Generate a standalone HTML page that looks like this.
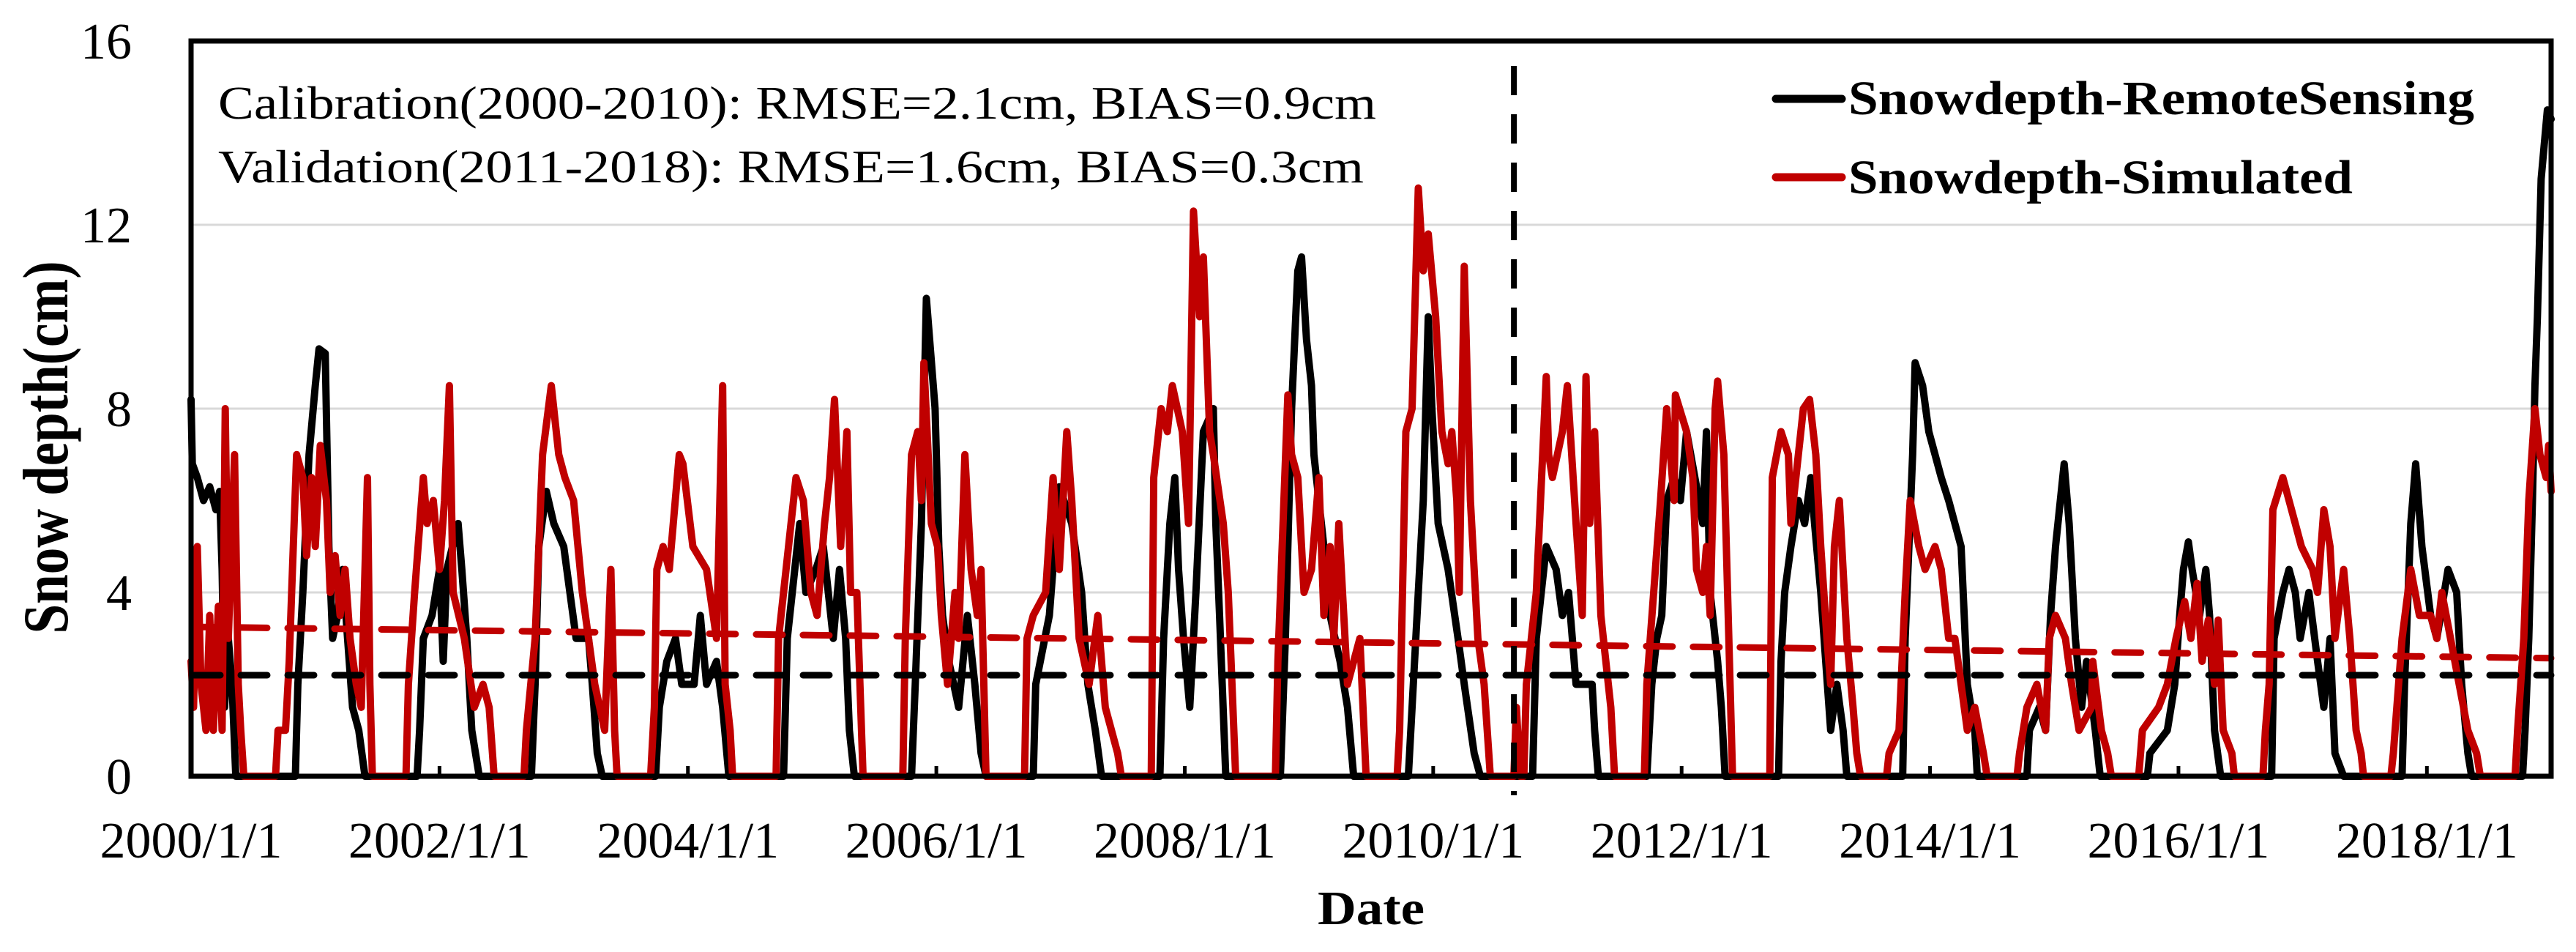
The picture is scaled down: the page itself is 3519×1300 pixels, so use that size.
<!DOCTYPE html>
<html><head><meta charset="utf-8"><style>
html,body{margin:0;padding:0;background:#fff;}
svg{display:block;}
text{font-family:"Liberation Serif",serif;}
</style></head><body>
<svg id="chart" width="3519" height="1300" viewBox="0 0 3519 1300" xmlns="http://www.w3.org/2000/svg">
<rect x="0" y="0" width="3519" height="1300" fill="#fff"/>
<g id="grid"></g>
<g id="series"></g>
<g id="frame"></g>
<g id="ylabels"></g>
<g id="xlabels"></g>
<text x="0" y="0" transform="translate(92,611) rotate(-90)" text-anchor="middle" font-weight="bold" font-size="88" textLength="509" lengthAdjust="spacingAndGlyphs">Snow depth(cm)</text>
<text x="1873" y="1262" text-anchor="middle" font-weight="bold" font-size="66" textLength="146" lengthAdjust="spacingAndGlyphs">Date</text>
<text x="298" y="162" font-size="64" textLength="1582" lengthAdjust="spacingAndGlyphs">Calibration(2000-2010): RMSE=2.1cm, BIAS=0.9cm</text>
<text x="298" y="249" font-size="64" textLength="1565" lengthAdjust="spacingAndGlyphs">Validation(2011-2018): RMSE=1.6cm, BIAS=0.3cm</text>
<g>
<line x1="2426" y1="135" x2="2516" y2="135" stroke="#000" stroke-width="11" stroke-linecap="round"/>
<text x="2525" y="156" font-size="66" font-weight="bold" textLength="855" lengthAdjust="spacingAndGlyphs">Snowdepth-RemoteSensing</text>
<line x1="2426" y1="242" x2="2516" y2="242" stroke="#c00000" stroke-width="11" stroke-linecap="round"/>
<text x="2525" y="264" font-size="66" font-weight="bold" textLength="689" lengthAdjust="spacingAndGlyphs">Snowdepth-Simulated</text>
</g>
</svg>
<script>
const yTicks = [0, 4, 8, 12, 16];
const xTickYears = [2000, 2002, 2004, 2006, 2008, 2010, 2012, 2014, 2016, 2018];
const xTickLabels = ["2000/1/1","2002/1/1","2004/1/1","2006/1/1","2008/1/1","2010/1/1","2012/1/1","2014/1/1","2016/1/1","2018/1/1"];
const splitYear = 2010.65;
const remoteTrend = [[2000, 2.2], [2019, 2.2]];
const simulatedTrend = [[2000, 3.25], [2019, 2.57]];
const remoteSensing = [
[2000.0,8.2],[2000.01,6.8],[2000.05,6.5],[2000.1,6.0],[2000.15,6.3],[2000.2,5.8],[2000.23,6.2],[2000.25,4.5],[2000.27,1.5],[2000.3,3.0],[2000.33,2.0],[2000.36,0],
[2000.84,0],[2000.86,2],[2000.9,4],[2000.95,7],[2001.0,8.5],[2001.03,9.3],[2001.08,9.2],[2001.11,5],[2001.14,3],[2001.18,3.5],[2001.22,4.5],[2001.26,3],[2001.3,1.5],[2001.35,1],[2001.4,0],
[2001.82,0],[2001.84,1],[2001.87,3],[2001.94,3.5],[2002.0,4.5],[2002.03,2.5],[2002.06,4.5],[2002.15,5.5],[2002.18,4.5],[2002.22,3],[2002.26,1],[2002.32,0],
[2002.74,0],[2002.77,2],[2002.8,5],[2002.86,6.2],[2002.92,5.5],[2003.0,5],[2003.05,4],[2003.1,3],[2003.2,3],[2003.23,2],[2003.27,0.5],[2003.31,0],
[2003.74,0],[2003.77,1.5],[2003.83,2.5],[2003.9,3],[2003.95,2],[2004.05,2],[2004.1,3.5],[2004.15,2],[2004.23,2.5],[2004.28,1.5],[2004.33,0],
[2004.77,0],[2004.8,3],[2004.9,5.5],[2004.95,4],[2005.03,4.5],[2005.09,5],[2005.17,3],[2005.22,4.5],[2005.27,3],[2005.3,1],[2005.34,0],
[2005.8,0],[2005.83,2],[2005.88,5.5],[2005.92,10.4],[2005.99,8],[2006.02,5],[2006.05,3.5],[2006.1,2.5],[2006.18,1.5],[2006.25,3.5],[2006.31,2],[2006.36,0.5],[2006.4,0],
[2006.78,0],[2006.8,2],[2006.91,3.5],[2006.99,6.3],[2007.09,5.5],[2007.17,4],[2007.22,2],[2007.28,1],[2007.33,0],
[2007.8,0],[2007.83,3],[2007.88,5.5],[2007.92,6.5],[2007.95,4.5],[2007.99,3],[2008.04,1.5],[2008.09,4],[2008.15,7.5],[2008.23,8],[2008.25,5.5],[2008.28,3.5],[2008.33,0],
[2008.77,0],[2008.81,3],[2008.86,8],[2008.91,11],[2008.94,11.3],[2008.98,9.5],[2009.02,8.5],[2009.04,7],[2009.12,5],[2009.17,3.5],[2009.25,2.5],[2009.31,1.5],[2009.36,0],
[2009.8,0],[2009.83,1.5],[2009.88,4],[2009.92,6],[2009.96,10],[2009.99,8],[2010.04,5.5],[2010.12,4.5],[2010.2,3],[2010.25,2],[2010.33,0.5],[2010.38,0],
[2010.8,0],[2010.83,3],[2010.91,5],[2010.99,4.5],[2011.04,3.5],[2011.09,4],[2011.15,2],[2011.28,2],[2011.3,1],[2011.33,0],
[2011.72,0],[2011.76,2],[2011.8,3],[2011.84,3.5],[2011.88,6],[2011.94,6.5],[2011.99,6],[2012.04,7.5],[2012.12,6.3],[2012.17,5.5],[2012.2,7.5],[2012.23,4],[2012.25,3.5],[2012.29,2.5],[2012.32,1.5],[2012.35,0],
[2012.78,0],[2012.8,2.5],[2012.83,4],[2012.88,5],[2012.94,6],[2012.99,5.5],[2013.04,6.5],[2013.07,5.5],[2013.12,4],[2013.2,1],[2013.25,2],[2013.3,1],[2013.33,0],
[2013.78,0],[2013.8,3],[2013.86,7],[2013.88,9],[2013.94,8.5],[2013.99,7.5],[2014.09,6.5],[2014.15,6],[2014.25,5],[2014.3,2],[2014.36,1],[2014.38,0],
[2014.78,0],[2014.8,1],[2014.88,1.5],[2014.93,1],[2014.97,3.5],[2015.01,5],[2015.08,6.8],[2015.12,5.5],[2015.17,3],[2015.22,1.5],[2015.26,2.5],[2015.33,1],[2015.37,0],
[2015.75,0],[2015.77,0.5],[2015.91,1],[2015.97,2],[2016.01,3.5],[2016.04,4.5],[2016.08,5.1],[2016.11,4.5],[2016.17,3.5],[2016.22,4.5],[2016.25,3.5],[2016.29,1],[2016.34,0],
[2016.75,0],[2016.77,3],[2016.84,4],[2016.89,4.5],[2016.94,4],[2016.98,3],[2017.05,4],[2017.12,2.5],[2017.17,1.5],[2017.22,3],[2017.26,0.5],[2017.33,0],
[2017.8,0],[2017.82,2],[2017.87,5.5],[2017.91,6.8],[2017.96,5],[2018.03,3.5],[2018.08,3],[2018.17,4.5],[2018.24,4],[2018.28,2],[2018.33,0.5],[2018.36,0],
[2018.77,0],[2018.79,1],[2018.82,3],[2018.85,6],[2018.87,8.5],[2018.89,10],[2018.92,13],[2018.97,14.5],[2019.0,14.3]
];
const simulated = [
[2000.0,2.5],[2000.02,1.5],[2000.05,5],[2000.08,2],[2000.12,1],[2000.15,3.5],[2000.18,1],[2000.22,3.7],[2000.25,1],[2000.275,8],[2000.3,3],[2000.35,7],[2000.38,2],[2000.4,1],[2000.425,0],
[2000.68,0],[2000.7,1],[2000.76,1],[2000.79,2.5],[2000.81,4],[2000.85,7],[2000.9,6.5],[2000.93,4.8],[2000.97,6.5],[2001.0,5],[2001.04,7.2],[2001.09,6],[2001.12,4],[2001.16,4.8],[2001.2,3.5],[2001.24,4.5],[2001.28,3],[2001.33,2],[2001.37,1.5],[2001.42,6.5],[2001.44,2],[2001.46,0],
[2001.73,0],[2001.75,2],[2001.8,4],[2001.87,6.5],[2001.9,5.5],[2001.95,6],[2002.0,4.5],[2002.04,6],[2002.08,8.5],[2002.11,4],[2002.2,3],[2002.28,1.5],[2002.35,2],[2002.4,1.5],[2002.44,0],
[2002.68,0],[2002.7,1],[2002.77,3],[2002.83,7],[2002.9,8.5],[2002.96,7],[2003.01,6.5],[2003.08,6],[2003.15,4],[2003.2,3],[2003.25,2],[2003.33,1],[2003.38,4.5],[2003.41,1],[2003.43,0],
[2003.7,0],[2003.73,1.5],[2003.75,4.5],[2003.8,5],[2003.85,4.5],[2003.93,7],[2003.96,6.8],[2004.04,5],[2004.15,4.5],[2004.23,3],[2004.28,8.5],[2004.3,2],[2004.34,1],[2004.36,0],
[2004.71,0],[2004.73,3],[2004.87,6.5],[2004.93,6],[2004.99,4],[2005.04,3.5],[2005.1,5.5],[2005.14,6.5],[2005.18,8.2],[2005.23,5],[2005.28,7.5],[2005.31,4],[2005.36,4],[2005.41,0],
[2005.73,0],[2005.75,3],[2005.8,7],[2005.85,7.5],[2005.88,6],[2005.9,9],[2005.96,5.5],[2006.01,5],[2006.04,3.5],[2006.09,2],[2006.15,4],[2006.18,3],[2006.23,7],[2006.28,4.5],[2006.33,3.5],[2006.36,4.5],[2006.4,0],
[2006.71,0],[2006.73,3],[2006.78,3.5],[2006.88,4],[2006.94,6.5],[2006.99,4.5],[2007.05,7.5],[2007.09,6],[2007.15,3],[2007.23,2],[2007.3,3.5],[2007.36,1.5],[2007.46,0.5],[2007.49,0],
[2007.73,0],[2007.75,6.5],[2007.81,8],[2007.86,7.5],[2007.9,8.5],[2007.98,7.5],[2008.03,5.5],[2008.07,12.3],[2008.12,10],[2008.15,11.3],[2008.2,7.5],[2008.23,7],[2008.31,5.5],[2008.35,4],[2008.38,2],[2008.41,0],
[2008.73,0],[2008.75,2.5],[2008.83,8.3],[2008.86,7],[2008.91,6.5],[2008.96,4],[2009.02,4.5],[2009.08,6.5],[2009.12,3.5],[2009.17,5],[2009.2,3],[2009.24,5.5],[2009.31,2],[2009.41,3],[2009.46,0],
[2009.71,0],[2009.73,1],[2009.78,7.5],[2009.83,8],[2009.88,12.8],[2009.92,11],[2009.96,11.8],[2010.02,10],[2010.07,7.5],[2010.12,6.8],[2010.15,7.5],[2010.19,6],[2010.21,4],[2010.25,11.1],[2010.3,6],[2010.36,3],[2010.41,2],[2010.46,0],
[2010.65,0],[2010.67,1.5],[2010.7,0],[2010.73,0],[2010.75,2],[2010.83,4],[2010.91,8.7],[2010.93,7],[2010.96,6.5],[2011.04,7.5],[2011.08,8.5],[2011.15,5.5],[2011.2,3.5],[2011.23,8.7],[2011.26,5.5],[2011.3,7.5],[2011.35,3.5],[2011.43,1.5],[2011.46,0],
[2011.7,0],[2011.72,2],[2011.83,6],[2011.88,8],[2011.94,6],[2011.95,8.3],[2012.04,7.5],[2012.09,6.5],[2012.12,4.5],[2012.17,4],[2012.2,5],[2012.23,3.5],[2012.27,8],[2012.29,8.6],[2012.34,7],[2012.37,4],[2012.41,0],
[2012.71,0],[2012.73,6.5],[2012.8,7.5],[2012.86,7],[2012.88,5.5],[2012.94,7],[2012.98,8],[2013.03,8.2],[2013.08,7],[2013.12,5],[2013.17,3],[2013.2,2],[2013.23,5],[2013.27,6],[2013.33,3],[2013.38,1.5],[2013.41,0.5],[2013.44,0],
[2013.65,0],[2013.67,0.5],[2013.75,1],[2013.8,4],[2013.84,6],[2013.91,5],[2013.96,4.5],[2014.04,5],[2014.09,4.5],[2014.15,3],[2014.2,3],[2014.25,2],[2014.3,1],[2014.36,1.5],[2014.43,0.5],[2014.46,0],
[2014.7,0],[2014.72,0.5],[2014.78,1.5],[2014.86,2],[2014.93,1],[2014.96,3],[2015.01,3.5],[2015.09,3],[2015.14,2],[2015.2,1],[2015.3,1.5],[2015.31,2.5],[2015.38,1],[2015.43,0.5],[2015.46,0],
[2015.68,0],[2015.71,1],[2015.84,1.5],[2015.91,2],[2015.98,3],[2016.05,3.8],[2016.1,3],[2016.15,4.2],[2016.19,2.5],[2016.24,3.4],[2016.29,2],[2016.32,3.4],[2016.36,1],[2016.43,0.5],[2016.45,0],
[2016.68,0],[2016.7,1],[2016.73,2],[2016.76,5.8],[2016.84,6.5],[2016.89,6],[2016.94,5.5],[2016.99,5],[2017.08,4.5],[2017.12,4],[2017.17,5.8],[2017.22,5],[2017.26,3],[2017.33,4.5],[2017.38,3],[2017.43,1],[2017.47,0.5],[2017.49,0],
[2017.71,0],[2017.73,0.5],[2017.8,3],[2017.87,4.5],[2017.94,3.5],[2018.03,3.5],[2018.08,3],[2018.12,4],[2018.19,3],[2018.26,2],[2018.33,1],[2018.4,0.5],[2018.43,0],
[2018.71,0],[2018.73,1],[2018.78,3],[2018.82,6],[2018.87,8],[2018.91,7],[2018.96,6.5],[2018.98,7.2],[2019.0,6.2]
];

const NS = "http://www.w3.org/2000/svg";
const L = 261, R = 3485, T = 56, B = 1060;
const X0 = 2000, X1 = 2019, Y0 = 0, Y1 = 16;
function xs(t){ return L + (t - X0) / (X1 - X0) * (R - L); }
function ys(v){ return B - (v - Y0) / (Y1 - Y0) * (B - T); }
function mk(tag, parent, attrs){
  const e = document.createElementNS(NS, tag);
  for (const k in attrs) e.setAttribute(k, attrs[k]);
  parent.appendChild(e);
  return e;
}
const grid = document.getElementById('grid');
const series = document.getElementById('series');
const frame = document.getElementById('frame');
const ylab = document.getElementById('ylabels');
const xlab = document.getElementById('xlabels');

yTicks.forEach(v => {
  if (v > Y0 && v < Y1) {
    const g = mk('line', grid, {x1:L, x2:R, y1:ys(v), y2:ys(v), stroke:'#d9d9d9', 'stroke-width':3});
    
    
  }
  const t = mk('text', ylab, {x:180, y:ys(v) + 24, 'text-anchor':'end', 'font-size':70});
  t.textContent = String(v);
  
  
});

xTickYears.forEach((yr, i) => {
  const t = mk('text', xlab, {x:xs(yr), y:1171, 'text-anchor':'middle', 'font-size':70});
  t.textContent = xTickLabels[i];
  
  
  const tk = mk('line', frame, {x1:xs(yr), x2:xs(yr), y1:B, y2:B - 14, stroke:'#000', 'stroke-width':5});
  
  
});

function pts(arr){ return arr.map(p => xs(p[0]).toFixed(1) + ',' + ys(p[1]).toFixed(1)).join(' '); }

const bl = mk('polyline', series, {points:pts(remoteSensing), fill:'none', stroke:'#000', 'stroke-width':10, 'stroke-linejoin':'round', 'stroke-linecap':'round'});


const rl = mk('polyline', series, {points:pts(simulated), fill:'none', stroke:'#c00000', 'stroke-width':10, 'stroke-linejoin':'round', 'stroke-linecap':'round'});



const bt = mk('line', series, {x1:xs(remoteTrend[0][0]) + 4, y1:ys(remoteTrend[0][1]), x2:xs(remoteTrend[1][0]), y2:ys(remoteTrend[1][1]), stroke:'#000', 'stroke-width':9, 'stroke-dasharray':'36 28', 'stroke-linecap':'round'});


const rt = mk('line', series, {x1:xs(simulatedTrend[0][0]) + 4, y1:ys(simulatedTrend[0][1]), x2:xs(simulatedTrend[1][0]), y2:ys(simulatedTrend[1][1]), stroke:'#c00000', 'stroke-width':9, 'stroke-dasharray':'36 28', 'stroke-linecap':'round'});



const vd = mk('line', series, {x1:xs(splitYear), x2:xs(splitYear), y1:90, y2:1086, stroke:'#000', 'stroke-width':8, 'stroke-dasharray':'40 26'});



const fr = mk('rect', frame, {x:L, y:T, width:R - L, height:B - T, fill:'none', stroke:'#000', 'stroke-width':7});


</script>
</body></html>
